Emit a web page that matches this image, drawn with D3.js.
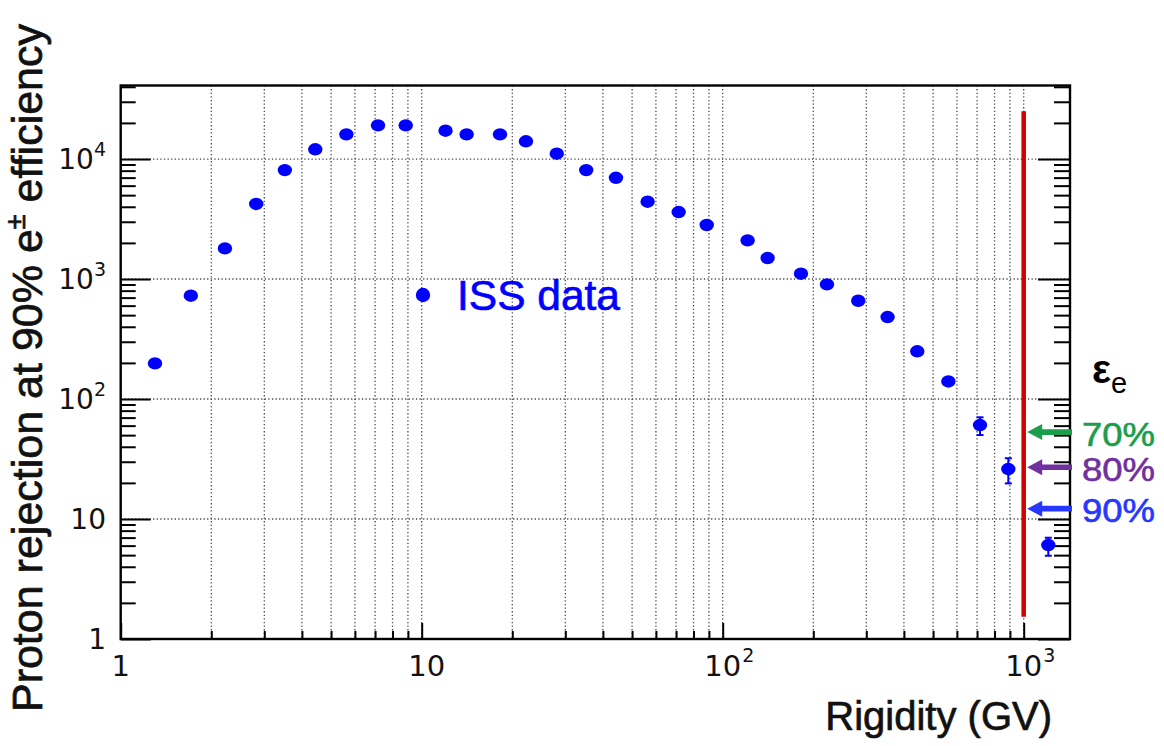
<!DOCTYPE html>
<html>
<head>
<meta charset="utf-8">
<script src="https://cdn.jsdelivr.net/npm/d3@7"></script>
<style>
  body { margin: 0; background: #ffffff; }
  svg { display: block; }
</style>
</head>
<body>
<svg id="chart" width="1164" height="746"></svg>
<script>
// ---- data -------------------------------------------------------------
const rigidity = [1.30, 1.71, 2.22, 2.82, 3.51, 4.43, 5.62, 7.16, 8.85, 12.0,
                  14.1, 18.2, 22.2, 28.1, 35.2, 44.2, 56.3, 71.4, 88.5, 121,
                  141, 182, 222, 282, 353, 443, 562, 716, 889, 1207];
const rejection = [198, 726, 1800, 4220, 8090, 12050, 16060, 19090, 19090, 17210,
                   16060, 16060, 14050, 11070, 8090, 6980, 4410, 3615, 2820, 2100,
                   1496, 1107, 903, 659, 482, 250, 140, 60.7, 26.1, 6.07];
// asymmetric uncertainties (only the last bins are larger than the marker)
const errLow  = [null, null, null, null, null, null, null, null, null, null,
                 null, null, null, null, null, null, null, null, null, null,
                 null, null, null, null, null, null, null, 50.1, 19.8, 4.94];
const errHigh = [null, null, null, null, null, null, null, null, null, null,
                 null, null, null, null, null, null, null, null, null, null,
                 null, null, null, null, null, null, null, 70.4, 32.1, 6.98];

const xDecades = [1, 10, 100, 1000];
const yDecades = [1, 10, 100, 1000, 10000];
const xDomain = [1, 1425];
const yDomain = [1, 41000];

// rigidity cut line and its rejection span
const cutRigidity = 1000;
const cutSpan = [1.53, 25000];

// electron efficiency markers on the right edge
const effLabels = ["70%", "80%", "90%"];
const effRejection = [53, 27, 12.2];

const legendLabel = "ISS data";
const xTitle = "Rigidity (GV)";
const yTitle = ["Proton rejection at 90% e", "\u00B1", " efficiency"];

// ---- layout -----------------------------------------------------------
const L = 120.7, R = 1070, T = 85.5, B = 639;
const svg = d3.select("#chart");

const x = d3.scaleLog().domain(xDomain).range([L, R]);
const y = d3.scaleLog().domain(yDomain).range([B, T]);

const isDecade = v => Math.abs(Math.log10(v) - Math.round(Math.log10(v))) < 1e-9;
const xMinor = x.ticks().filter(v => !isDecade(v) && v < xDomain[1]);
const yMinor = y.ticks().filter(v => !isDecade(v) && v < yDomain[1]);

const GRID = "#4a4a4a";
const BLUE = "#0000ff";
const effColors = ["#1b9e4b", "#70309f", "#2638ff"];

// ---- grid -------------------------------------------------------------
const grid = svg.append("g").attr("stroke", GRID).attr("stroke-width", 1.3)
  .attr("stroke-dasharray", "1.3 2.3");
grid.selectAll("line.gx")
  .data(x.ticks().filter(v => v > xDomain[0] && v < xDomain[1]))
  .join("line").attr("class", "gx")
  .attr("x1", d => x(d)).attr("x2", d => x(d))
  .attr("y1", T).attr("y2", B);
grid.selectAll("line.gy")
  .data(yDecades.filter(v => v > yDomain[0]))
  .join("line").attr("class", "gy")
  .attr("x1", L).attr("x2", R)
  .attr("y1", d => y(d)).attr("y2", d => y(d));

// ---- axes ticks (labels are drawn separately) -------------------------
function tickAxis(axis, tx, ty) {
  const g = svg.append("g").attr("transform", `translate(${tx},${ty})`).call(axis);
  g.select(".domain").remove();
  g.selectAll(".tick line").attr("stroke", "#000").attr("stroke-width", 2);
  g.selectAll(".tick text").remove();
  return g;
}
tickAxis(d3.axisBottom(x).tickValues(xMinor).tickSize(-8), 0, B);
tickAxis(d3.axisBottom(x).tickValues(xDecades).tickSize(-16), 0, B);
tickAxis(d3.axisLeft(y).tickValues(yMinor).tickSize(-15), L, 0);
tickAxis(d3.axisLeft(y).tickValues(yDecades).tickSize(-30), L, 0);
tickAxis(d3.axisRight(y).tickValues(yMinor).tickSize(-16), R, 0);
tickAxis(d3.axisRight(y).tickValues(yDecades).tickSize(-32), R, 0);

// frame
svg.append("rect").attr("x", L).attr("y", T)
  .attr("width", R - L).attr("height", B - T)
  .attr("fill", "none").attr("stroke", "#000").attr("stroke-width", 2.4);

// ---- tick labels with powers of ten -----------------------------------
const TICK_FONT = "'DejaVu Sans', sans-serif";
function powerLabel(sel, v) {
  const e = Math.round(Math.log10(v));
  if (e === 0) { sel.append("tspan").text("1"); return; }
  sel.append("tspan").text("10");
  if (e > 1) {
    sel.append("tspan").attr("font-size", 19).attr("dy", -13).text(String(e));
  }
}
yDecades.forEach(v => {
  const t = svg.append("text")
    .attr("x", 106).attr("y", y(v) + 10)
    .attr("text-anchor", "end")
    .attr("font-family", TICK_FONT).attr("font-size", 28).attr("fill", "#111");
  powerLabel(t, v);
});
xDecades.forEach(v => {
  const e = Math.round(Math.log10(v));
  const base = svg.append("text")
    .attr("x", x(v) + (e === 1 ? 5 : 0)).attr("y", 676)
    .attr("text-anchor", "middle")
    .attr("font-family", TICK_FONT).attr("font-size", 29).attr("fill", "#111")
    .text(e === 0 ? "1" : "10");
  if (e > 1) {
    const w = base.node().getComputedTextLength();
    svg.append("text")
      .attr("x", x(v) + w / 2 + 1).attr("y", 662)
      .attr("font-family", TICK_FONT).attr("font-size", 19).attr("fill", "#111")
      .text(String(e));
  }
});

// ---- axis titles ------------------------------------------------------
const TITLE_FONT = "'Liberation Sans', Arial, Helvetica, sans-serif";
svg.append("text")
  .attr("x", 1052).attr("y", 730)
  .attr("text-anchor", "end")
  .attr("font-family", TITLE_FONT).attr("font-size", 40).attr("fill", "#111")
  .attr("stroke", "#111").attr("stroke-width", 0.7)
  .text(xTitle);

const yt = svg.append("text")
  .attr("transform", "translate(42,368) rotate(-90)")
  .attr("text-anchor", "middle")
  .attr("font-family", TITLE_FONT).attr("font-size", 43).attr("fill", "#111")
  .attr("stroke", "#111").attr("stroke-width", 0.7);
yt.append("tspan").text(yTitle[0]);
yt.append("tspan").attr("font-size", 27).attr("dy", -17).text(yTitle[1]);
yt.append("tspan").attr("dy", 17).text(yTitle[2]);

// ---- rigidity cut line ------------------------------------------------
svg.append("line")
  .attr("x1", x(cutRigidity)).attr("x2", x(cutRigidity))
  .attr("y1", y(cutSpan[0])).attr("y2", y(cutSpan[1]))
  .attr("stroke", "#d00000").attr("stroke-width", 4.5);

// ---- data points ------------------------------------------------------
const pts = rigidity.map((r, i) => ({ r, v: rejection[i], lo: errLow[i], hi: errHigh[i] }));
const eb = svg.append("g").attr("stroke", BLUE).attr("stroke-width", 2);
pts.filter(d => d.lo != null).forEach(d => {
  const cx = x(d.r);
  eb.append("line").attr("x1", cx).attr("x2", cx).attr("y1", y(d.lo)).attr("y2", y(d.hi));
  eb.append("line").attr("x1", cx - 3.5).attr("x2", cx + 3.5).attr("y1", y(d.lo)).attr("y2", y(d.lo));
  eb.append("line").attr("x1", cx - 3.5).attr("x2", cx + 3.5).attr("y1", y(d.hi)).attr("y2", y(d.hi));
});
svg.append("g").selectAll("ellipse").data(pts).join("ellipse")
  .attr("cx", d => x(d.r)).attr("cy", d => y(d.v))
  .attr("rx", 7.2).attr("ry", 6.2)
  .attr("fill", BLUE);

// ---- legend -----------------------------------------------------------
svg.append("circle").attr("cx", 423).attr("cy", 295).attr("r", 7.2).attr("fill", BLUE);
svg.append("text")
  .attr("x", 457).attr("y", 310)
  .attr("font-family", TITLE_FONT).attr("font-size", 43).attr("fill", BLUE)
  .attr("stroke", BLUE).attr("stroke-width", 0.7)
  .attr("textLength", 163).attr("lengthAdjust", "spacingAndGlyphs")
  .text(legendLabel);

// ---- efficiency arrows ------------------------------------------------
const tipX = x(cutRigidity) + 3.5;
const arrowPath = (yy) => {
  const head = 15, hh = 8, sh = 2.8, end = R + 2;
  return `M${tipX},${yy} L${tipX + head},${yy - hh} L${tipX + head},${yy - sh} L${end},${yy - sh}` +
         ` L${end},${yy + sh} L${tipX + head},${yy + sh} L${tipX + head},${yy + hh} Z`;
};
effRejection.forEach((v, i) => {
  const yy = y(v);
  svg.append("path").attr("d", arrowPath(yy)).attr("fill", effColors[i]);
  svg.append("text")
    .attr("x", 1082).attr("y", yy + 13.5)
    .attr("font-family", TITLE_FONT).attr("font-size", 33)
    .attr("textLength", 73).attr("lengthAdjust", "spacingAndGlyphs")
    .attr("fill", effColors[i]).attr("stroke", effColors[i]).attr("stroke-width", 0.6)
    .text(effLabels[i]);
});

// epsilon_e header
const eps = svg.append("text").attr("x", 1092).attr("y", 383)
  .attr("font-family", TITLE_FONT).attr("fill", "#000");
eps.append("tspan").attr("font-size", 40).attr("font-weight", "bold").text("\u03B5");
eps.append("tspan").attr("font-size", 29).attr("dy", 10).text("e");
</script>
</body>
</html>
